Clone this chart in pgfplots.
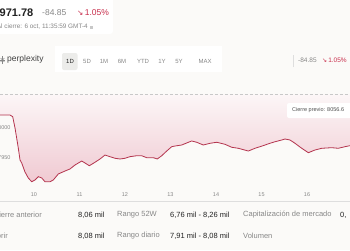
\documentclass[border=0pt]{standalone}
\usepackage{pgfplots}
\pgfplotsset{compat=1.18}
\usepackage{pgfplotstable}
\usepackage{fontspec}
\setmainfont{Liberation Sans}
\newfontfamily\symfont{DejaVu Sans}
\definecolor{bg}{RGB}{251,250,248}
\definecolor{dark}{RGB}{34,34,34}
\definecolor{midgray}{RGB}{135,135,135}
\definecolor{lightgray2}{RGB}{200,200,200}
\definecolor{linered}{RGB}{180,52,78}
\definecolor{redtext}{RGB}{200,45,75}
\definecolor{pinktop}{RGB}{252,246,247}
\definecolor{pinkbot}{RGB}{240,202,210}
\definecolor{tabbg}{RGB}{236,236,234}

\pgfplotstableread{
t v
9.253 8021.8
9.473 8021.8
9.532 8019.0
9.583 8000.0
9.655 7966.4
9.693 7946.2
9.730 7941.2
9.802 7926.1
9.875 7916.0
9.950 7909.7
10.022 7912.6
10.095 7918.2
10.170 7916.0
10.242 7909.7
10.352 7909.7
10.424 7912.6
10.534 7922.7
10.682 7927.7
10.791 7931.1
10.901 7937.8
11.049 7944.5
11.121 7941.2
11.216 7936.6
11.341 7942.4
11.451 7947.9
11.561 7954.6
11.670 7951.8
11.780 7949.1
11.890 7947.9
12.000 7949.1
12.110 7951.8
12.257 7953.4
12.367 7953.4
12.477 7950.1
12.622 7950.1
12.710 7947.9
12.807 7953.4
12.917 7961.3
13.027 7968.6
13.099 7969.7
13.246 7971.4
13.466 7978.2
13.576 7976.0
13.721 7971.4
13.868 7974.3
14.016 7976.0
14.198 7972.6
14.345 7967.6
14.490 7965.9
14.710 7961.3
14.857 7965.9
14.967 7968.6
15.077 7971.4
15.187 7974.3
15.297 7976.9
15.444 7979.8
15.517 7981.5
15.627 7979.8
15.736 7974.3
15.884 7965.9
16.029 7958.5
16.176 7963.0
16.323 7965.9
16.543 7966.9
16.688 7965.9
16.836 7968.6
16.945 7970.3
}\pricedata

\begin{document}
\begin{tikzpicture}
\begin{scope}[x=1pt,y=1pt]
\clip (0,0) rectangle (350,250);
\fill[bg] (0,0) rectangle (350,250);
% header card
\fill[white,rounded corners=3pt] (-5,216) rectangle (113,255);
\fill[white] (55,178) rectangle (222,204);
% header text
\node[anchor=west,inner sep=0pt,font=\fontsize{11}{12}\selectfont\bfseries,text=dark] at (-0.5,237) {971.78};
\node[anchor=west,inner sep=0pt,font=\fontsize{8.5}{9}\selectfont,text=midgray] at (42,237) {-84.85};
\node[anchor=west,inner sep=0pt,font=\fontsize{8.5}{9}\selectfont,text=redtext] at (77,237) {{\symfont\fontsize{7.5}{8}\selectfont ↘}\,1.05\%};
\node[anchor=east,inner sep=0pt,font=\fontsize{6.4}{7}\selectfont,text=midgray] at (88,223) {Al cierre: 6 oct, 11:35:59 GMT-4};
\fill[lightgray2] (90,221.5) rectangle (92.5,224.5);
% perplexity row
\begin{scope}[midgray,line width=0.6pt]
\draw (2.5,186) -- (2.5,194); \draw (0,190) -- (5,190);
\draw (0.7,188.2) -- (4.3,191.8); \draw (0.7,191.8) -- (4.3,188.2);
\end{scope}
\node[anchor=west,inner sep=0pt,font=\fontsize{8.5}{9}\selectfont,text=dark!85] at (7,190.5) {perplexity};
\fill[tabbg,rounded corners=2pt] (62,180) rectangle (77.5,197);
\foreach \lab/\xx in {5D/87,1M/104,6M/122,YTD/143,1Y/162,5Y/179,MAX/205}{
  \node[inner sep=0pt,font=\fontsize{6}{7}\selectfont,text=midgray] at (\xx,189) {\lab};
}
\node[inner sep=0pt,font=\fontsize{6}{7}\selectfont,text=dark] at (70,189) {1D};
\draw[lightgray2!60,line width=0.5pt] (293,183) -- (293,195);
\node[anchor=west,inner sep=0pt,font=\fontsize{6.5}{7}\selectfont,text=midgray] at (298,190) {-84.85};
\node[anchor=west,inner sep=0pt,font=\fontsize{6.5}{7}\selectfont,text=redtext] at (322,190) {{\symfont\fontsize{6}{7}\selectfont ↘}\,1.05\%};
\end{scope}

\begin{axis}[at={(0pt,60pt)}, anchor=south west, scale only axis,
  width=350pt, height=102pt,
  xmin=9.253, xmax=16.945, ymin=7895.8, ymax=8067.2,
  axis line style={draw=none}, major tick length=0pt,
  xtick={10,11,12,13,14,15,16},
  ytick={7950,8000,8050},
  xticklabel style={font=\fontsize{5.5}{6}\selectfont, text=midgray, yshift=1pt},
  yticklabel style={font=\fontsize{5.5}{6}\selectfont, text=midgray, anchor=east, xshift=14pt, /pgf/number format/1000 sep={}},
  /pgf/number format/assume math mode=true,
  clip=true]
\addplot[draw=none, top color=pinktop, bottom color=pinkbot, forget plot] table[x=t,y=v]{\pricedata} -- (axis cs:16.945,8056.63) -- (axis cs:9.253,8056.63) -- cycle;
\addplot[densely dashed, lightgray2, line width=0.5pt, forget plot] coordinates {(9.253,8056.63) (16.945,8056.63)};
\addplot[linered, line width=0.8pt, forget plot] table[x=t,y=v]{\pricedata};
\end{axis}

\begin{scope}[x=1pt,y=1pt]
\clip (0,0) rectangle (350,250);
% previous close box
\fill[white,rounded corners=2pt] (287,132) rectangle (356,147);
\node[anchor=west,inner sep=0pt,font=\fontsize{5.5}{6}\selectfont,text=dark!80] at (292,139.5) {Cierre previo: 8056.6};
% separator
\draw[lightgray2!60,line width=0.5pt] (0,49) -- (350,49);
% stats rows
\begin{scope}[every node/.style={inner sep=0pt,font=\fontsize{7.5}{8}\selectfont}]
\node[anchor=east,text=midgray] at (42,35) {Cierre anterior};
\node[anchor=west,text=dark] at (78,35) {8,06 mil};
\node[anchor=west,text=midgray] at (117,35) {Rango 52W};
\node[anchor=west,text=dark] at (170,35) {6,76 mil - 8,26 mil};
\node[anchor=west,text=midgray] at (243,35) {Capitalización de mercado};
\node[anchor=west,text=dark] at (340,35) {0,};
\node[anchor=east,text=midgray] at (8,14) {Abrir};
\node[anchor=west,text=dark] at (78,14) {8,08 mil};
\node[anchor=west,text=midgray] at (117,14) {Rango diario};
\node[anchor=west,text=dark] at (170,14) {7,91 mil - 8,08 mil};
\node[anchor=west,text=midgray] at (243,14) {Volumen};
\end{scope}
\end{scope}
\pgfresetboundingbox
\useasboundingbox (0,0) rectangle (350pt,250pt);
\end{tikzpicture}
\end{document}
